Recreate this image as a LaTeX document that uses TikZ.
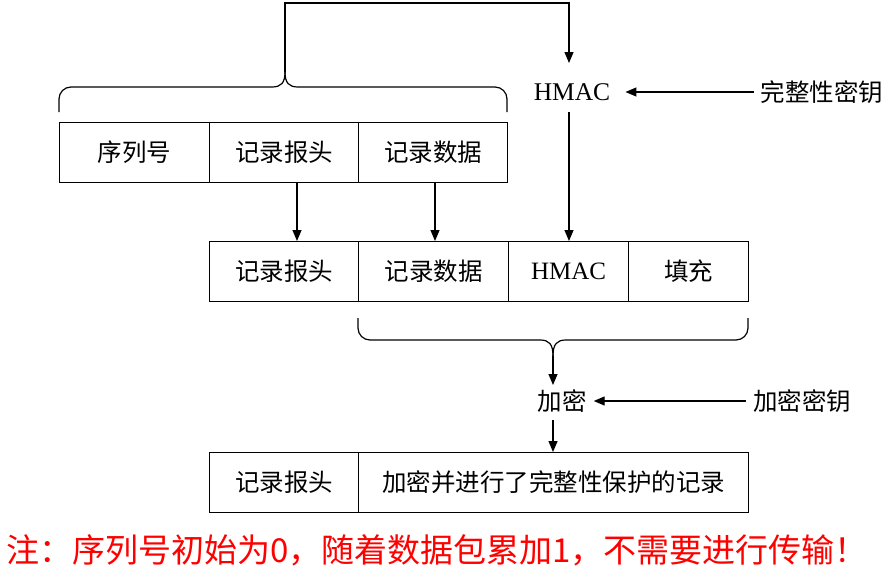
\documentclass[tikz,border=0pt]{standalone}
\usepackage{fontspec}
\setmainfont{Liberation Serif}
\newfontfamily\cjk{Noto Sans CJK SC}
\usetikzlibrary{arrows.meta}
\begin{document}
\begin{tikzpicture}[x=1pt,y=-1pt,
  cell/.style={draw,line width=1.2pt,minimum height=60pt,inner sep=0pt,anchor=north west,font=\cjk\fontsize{24.5}{28}\selectfont},
  lab/.style={inner sep=1pt,font=\cjk\fontsize{24.5}{28}\selectfont},
  conn/.style={line width=1.2pt,-{Triangle[length=11pt,width=9pt]}},
  brc/.style={line width=1.2pt}]
\useasboundingbox (0,0) rectangle (894,576);
% row 1
\node[cell,minimum width=150pt] (a1) at (59,122) {序列号};
\node[cell,minimum width=149pt] (a2) at (209,122) {记录报头};
\node[cell,minimum width=149pt] (a3) at (358,122) {记录数据};
% row 2
\node[cell,minimum width=149pt] (b1) at (209,241) {记录报头};
\node[cell,minimum width=150pt] (b2) at (358,241) {记录数据};
\node[cell,minimum width=120pt,font=\fontsize{25}{28}\selectfont] (b3) at (508,241) {HMAC};
\node[cell,minimum width=120pt] (b4) at (628,241) {填充};
% row 3
\node[cell,minimum width=149pt] (c1) at (209,452) {记录报头};
\node[cell,minimum width=390pt] (c2) at (358,452) {加密并进行了完整性保护的记录};
% labels
\node[lab,font=\fontsize{25.5}{28}\selectfont] (hmac) at (572,92) {HMAC};
\node[lab] (key1) at (822,92) {完整性密钥};
\node[lab] (enc) at (562,401) {加密};
\node[lab] (key2) at (802,401) {加密密钥};
% brace 1
\coordinate (t1) at (285,72);
\draw[brc] (59,112) -- (59,99) arc[start angle=180,end angle=90,radius=12pt] -- (272,87)
  .. controls (281,87) and (285,83) .. (t1);
\draw[brc] (507,112) -- (507,99) arc[start angle=0,end angle=90,radius=12pt] -- (298,87)
  .. controls (289,87) and (285,83) .. (t1);
% brace 2
\coordinate (t2) at (553,356);
\draw[brc] (358,318) -- (358,328) arc[start angle=180,end angle=270,radius=12pt] -- (540,340)
  .. controls (549,340) and (553,344) .. (t2);
\draw[brc] (748,318) -- (748,328) arc[start angle=0,end angle=-90,radius=12pt] -- (566,340)
  .. controls (557,340) and (553,344) .. (t2);
% connectors
\coordinate (top) at (285,3);
\coordinate (hm) at (569,63);
\draw[conn] (t1) -- (top) -| (hm);
\draw[conn,shorten <=6pt,shorten >=14pt] (key1) -- (hmac);
\coordinate (hs) at (569,112);
\draw[conn] (hs) -- (hs |- b3.north);
\draw[conn] (a2.south -| 297,0) -- (b1.north -| 297,0);
\draw[conn] (a3.south -| 435,0) -- (b2.north -| 435,0);
\coordinate (e1) at (553,385);
\draw[conn] (t2) -- (e1);
\draw[conn,shorten <=6pt,shorten >=6pt] (key2) -- (enc);
\coordinate (e2) at (553,420);
\draw[conn] (e2) -- (e2 |- c2.north);
% note
\node[font=\cjk\fontsize{33}{36}\selectfont,text=red,inner sep=0pt] (note) at (437,550) {注：序列号初始为0，随着数据包累加1，不需要进行传输！};
\end{tikzpicture}
\end{document}
